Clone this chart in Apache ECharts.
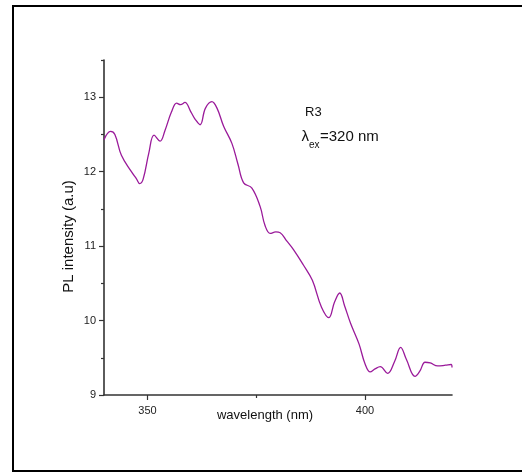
<!DOCTYPE html>
<html>
<head>
<meta charset="utf-8">
<script src="https://cdn.jsdelivr.net/npm/echarts@6/dist/echarts.min.js"></script>
<style>
  html, body { margin: 0; padding: 0; background: #fff; }
  #chart { width: 522px; height: 473px; }
</style>
</head>
<body>
<div id="chart"></div>
<script>
// PL emission spectrum of sample R3 (excitation at 320 nm)
const wavelength = [
  340, 341.5, 342.5, 344, 346.3, 347.5, 348.2, 349, 350.3, 351.5,
  352.9, 354, 355.5, 356.7, 357.6, 358.6, 360, 361, 362.1, 363.3,
  364.8, 366, 367.5, 369.4, 370.8, 372.1, 374, 375.9, 377, 378.2,
  379.5, 380.5, 382, 383.6, 385.8, 387.9, 390, 391.7, 393, 394.2,
  395.3, 396.7, 398.6, 400, 401.2, 402.3, 403.5, 405.2, 406.8, 408.2,
  409.5, 411.5, 412.6, 413.8, 415, 416.7, 418.5, 419.8, 420
];
const intensity = [
  12.43, 12.54, 12.50, 12.22, 12.00, 11.90, 11.84, 11.90, 12.25, 12.49,
  12.41, 12.55, 12.80, 12.92, 12.90, 12.93, 12.80, 12.70, 12.63, 12.85,
  12.94, 12.85, 12.61, 12.38, 12.10, 11.85, 11.78, 11.53, 11.28, 11.17,
  11.19, 11.18, 11.07, 10.95, 10.75, 10.54, 10.18, 10.04, 10.25, 10.37,
  10.20, 9.96, 9.69, 9.42, 9.31, 9.35, 9.38, 9.29, 9.45, 9.64,
  9.48, 9.25, 9.32, 9.44, 9.43, 9.39, 9.40, 9.41, 9.37
];

const xMajorTicks = [350, 400];
const xMinorTicks = [375];
const yMajorTicks = [9, 10, 11, 12, 13];
const yMinorTicks = [9.5, 10.5, 11.5, 12.5, 13.5];

const FONT = 'Liberation Sans, Arial, sans-serif';
const AXIS_COLOR = '#333';

const chart = echarts.init(document.getElementById('chart'));

const points = wavelength.map((w, i) => [w, intensity[i]]);

chart.setOption({
  animation: false,
  backgroundColor: '#fff',
  grid: { left: 104, right: 70, top: 60, bottom: 78 },
  xAxis: [
    {
      type: 'value', min: 340, max: 420, position: 'bottom',
      axisLine: { show: true, lineStyle: { color: AXIS_COLOR, width: 1.6 } },
      axisTick: { show: true, customValues: xMajorTicks, length: 5, lineStyle: { color: AXIS_COLOR, width: 1.2 } },
      axisLabel: { customValues: xMajorTicks, margin: 10, fontSize: 11, color: '#222', fontFamily: FONT },
      splitLine: { show: false }
    },
    {
      type: 'value', min: 340, max: 420, position: 'bottom', offset: 0,
      axisLine: { show: false },
      axisTick: { show: true, customValues: xMinorTicks, length: 3, lineStyle: { color: AXIS_COLOR, width: 1.2 } },
      axisLabel: { show: false },
      splitLine: { show: false }
    }
  ],
  yAxis: [
    {
      type: 'value', min: 9, max: 13.5, position: 'left',
      axisLine: { show: true, lineStyle: { color: AXIS_COLOR, width: 1.6 } },
      axisTick: { show: true, customValues: yMajorTicks, length: 5, lineStyle: { color: AXIS_COLOR, width: 1.2 } },
      axisLabel: { customValues: yMajorTicks, margin: 8, fontSize: 11, color: '#222', fontFamily: FONT },
      splitLine: { show: false }
    },
    {
      type: 'value', min: 9, max: 13.5, position: 'left', offset: 0,
      axisLine: { show: false },
      axisTick: { show: true, customValues: yMinorTicks, length: 3, lineStyle: { color: AXIS_COLOR, width: 1.2 } },
      axisLabel: { show: false },
      splitLine: { show: false }
    }
  ],
  series: [
    {
      type: 'line',
      xAxisIndex: 0, yAxisIndex: 0,
      data: points,
      showSymbol: false,
      smooth: 0.4,
      lineStyle: { color: '#9a1a9a', width: 1.3 }
    }
  ],
  graphic: [
    // outer frame
    { type: 'rect', shape: { x: 13, y: 6, width: 520, height: 465 },
      style: { fill: 'none', stroke: '#000', lineWidth: 2 }, silent: true },
    // axis titles
    { type: 'text', x: 265, y: 415.5,
      style: { text: 'wavelength (nm)', font: '13px ' + FONT, fill: '#111', align: 'center', verticalAlign: 'middle' } },
    { type: 'text', x: 68.5, y: 236.5, rotation: Math.PI / 2,
      style: { text: 'PL intensity (a.u)', font: '15px ' + FONT, fill: '#111', align: 'center', verticalAlign: 'middle' } },
    // annotation
    { type: 'text', x: 305, y: 112.5,
      style: { text: 'R3', font: '13px ' + FONT, fill: '#111', align: 'left', verticalAlign: 'middle' } },
    { type: 'text', x: 301.5, y: 136.5,
      style: { text: 'λ', font: '15px ' + FONT, fill: '#111', align: 'left', verticalAlign: 'middle' } },
    { type: 'text', x: 309, y: 145.5,
      style: { text: 'ex', font: '10px ' + FONT, fill: '#111', align: 'left', verticalAlign: 'middle' } },
    { type: 'text', x: 320, y: 136.5,
      style: { text: '=320 nm', font: '15px ' + FONT, fill: '#111', align: 'left', verticalAlign: 'middle' } }
  ]
});
</script>
</body>
</html>
